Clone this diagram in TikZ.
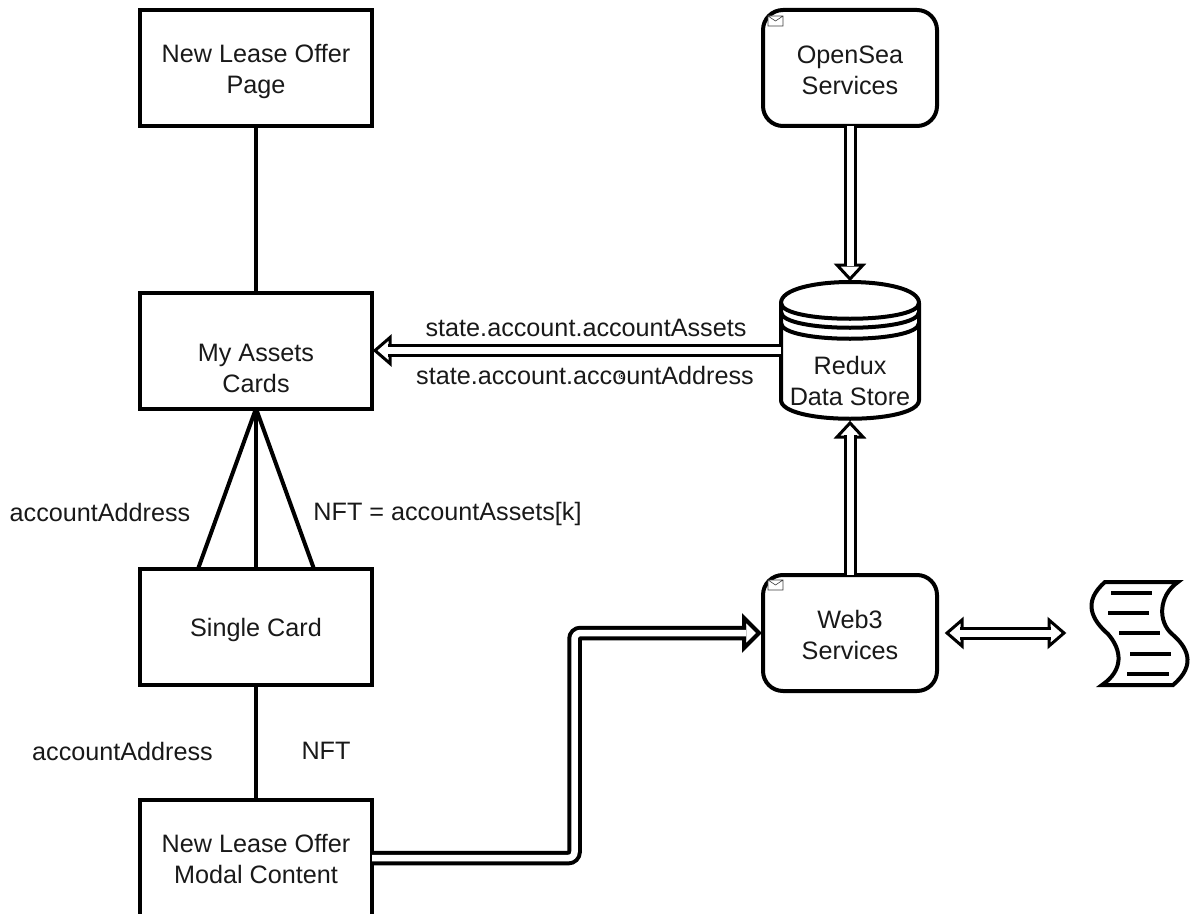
\documentclass[tikz,border=0pt]{standalone}
\usepackage{fontspec}
\setmainfont{Liberation Sans}
\usetikzlibrary{calc}
\def\px{0.75pt}
\newcommand\dropby[1]{\rule{0pt}{\dimexpr 13.6pt+#1pt*2*3/4\relax}}
\tikzset{
  x=0.75pt,y=-0.75pt,
  txt/.style={font=\fontsize{18.9pt}{23.25pt}\selectfont,align=center,text=black!90,inner sep=0pt},
  pagebox/.style={txt,draw=black,fill=white,line width=4*\px,minimum width=174pt,minimum height=87pt,outer sep=0pt},
  svcbox/.style={txt,draw=black,fill=white,line width=4*\px,rounded corners=15pt,minimum width=130.5pt,minimum height=87pt,outer sep=0pt},
  ghost/.style={inner sep=0pt,outer sep=0pt},
  link/.style={draw=black,line width=4*\px},
  rail/.style={draw=black,line width=3*\px,double=white,double distance=7*\px},
  thickrail/.style={draw=black,line width=4*\px,double=white,double distance=6.5*\px,rounded corners=6*\px},
  tiphead/.style={draw=black,fill=white,line width=3*\px,line join=miter},
  thickhead/.style={draw=black,fill=white,line width=4*\px,line join=miter},
  shapeline/.style={draw=black,line width=4*\px,line join=miter},
  envelope/.style={draw=black!75,line width=0.5pt,fill=white},
}
\begin{document}
\begin{tikzpicture}
\useasboundingbox (0,0) rectangle (1198,913);
\clip (0,0) rectangle (1198,913);
% boxes
\node[pagebox] (page) at (256,68) {\dropby{4}New Lease Offer\\Page};
\node[pagebox] (assets) at (256,350.5) {\dropby{17.5}My Assets\\Cards};
\node[pagebox] (single) at (256,627) {\dropby{3}Single Card};
\node[pagebox] (modal) at (256,858) {\dropby{1.5}New Lease Offer\\Modal Content};
\node[svcbox] (open) at (850,68) {\dropby{2.5}OpenSea\\Services};
\node[svcbox] (web) at (850,633) {\dropby{2}Web3\\Services};
% envelopes
\draw[envelope] (768,16) rectangle (783,26) (768,16) -- (775.5,21) -- (783,16);
\draw[envelope] (768,580) rectangle (783,590) (768,580) -- (775.5,585) -- (783,580);
% data store
\node[ghost,minimum width=103.5pt,minimum height=102.75pt] (redux) at (850,350.5) {};
\draw[shapeline,fill=white] (781,303) .. controls (781,275) and (919,275) .. (919,303)
  -- (919,400) .. controls (919,425) and (781,425) .. (781,400) -- cycle;
\draw[shapeline] (781,303) .. controls (781,324) and (919,324) .. (919,303);
\draw[shapeline] (781,312) .. controls (781,333) and (919,333) .. (919,312);
\draw[shapeline] (781,323) .. controls (781,344) and (919,344) .. (919,323);
\node[txt] (reduxtext) at (850,381) {Redux\\Data Store};
% contract document
\node[ghost,minimum width=73.5pt,minimum height=78pt] (doc) at (1139,633) {};
\draw[shapeline] (1105,582) -- (1178,582) .. controls (1158,596) and (1158,622) .. (1172,634)
  .. controls (1186,646) and (1198,664) .. (1173,685) -- (1102,685)
  .. controls (1124,670) and (1122,650) .. (1108,634)
  .. controls (1092,620) and (1082,602) .. (1105,582) -- cycle;
\draw[shapeline] (1111,593) -- (1152,593) (1108,613) -- (1149,613) (1119,633) -- (1160,633)
  (1130,654) -- (1171,654) (1127,674) -- (1169,674);
% plain links
\draw[link] (page.south) -- (assets.north);
\draw[link] (assets.south) -- (single.north);
\draw[link] (assets.south) -- ([xshift=-58*\px]single.north);
\draw[link] (assets.south) -- ([xshift=58*\px]single.north);
\draw[link] (single.south) -- (modal.north);
% OpenSea to Redux
\path[tiphead,shift={(redux.north)}] (0,-3) -- (-13,-17) -- (13,-17) -- cycle;
\draw[rail] (open.south) -- ([yshift=16*\px]redux.north);
% Web3 to Redux
\path[tiphead,shift={(redux.south)}] (0,4) -- (-13,18) -- (13,18) -- cycle;
\draw[rail] (web.north) -- ([yshift=-16*\px]redux.south);
% Redux to assets
\coordinate (rl) at (redux.west |- 0,350.5);
\path[tiphead,shift={(assets.east)}] (3,0) -- (18,-13) -- (18,13) -- cycle;
\draw[rail] (rl) -- ([xshift=16*\px]assets.east);
% modal to web3
\coordinate (bend) at (574.5,745);
\path[thickhead,shift={(web.west)}] (-4,0) -- (-19,-15) -- (-19,15) -- cycle;
\draw[thickrail] (modal.east) -| (bend) |- ([xshift=-17*\px]web.west);
% web3 to document
\coordinate (wa) at ($(web.east)+(7,0)$);
\coordinate (da) at ($(doc.west)+(-23,0)$);
\path[tiphead,shift={(wa)}] (3,0) -- (18,-13) -- (18,13) -- cycle;
\path[tiphead,shift={(da)}] (-3,0) -- (-18,-13) -- (-18,13) -- cycle;
\draw[rail] ([xshift=16*\px]wa) -- ([xshift=-16*\px]da);
% labels
\node[txt] (l1) at (586,328) {state.account.accountAssets};
\node[txt] (l2) at (585,375) {state.account.accountAddress};
\node[txt] (l3) at (100,512) {accountAddress};
\node[txt] (l4) at (447.5,514) {NFT = accountAssets[k]};
\node[txt] (l5) at (122.5,751) {accountAddress};
\node[txt] (l6) at (326,751) {NFT};
\draw[line width=0.5pt,fill=white] (621.5,376) circle (2.5);
\fill (621.5,376) circle (1);
\end{tikzpicture}
\end{document}
